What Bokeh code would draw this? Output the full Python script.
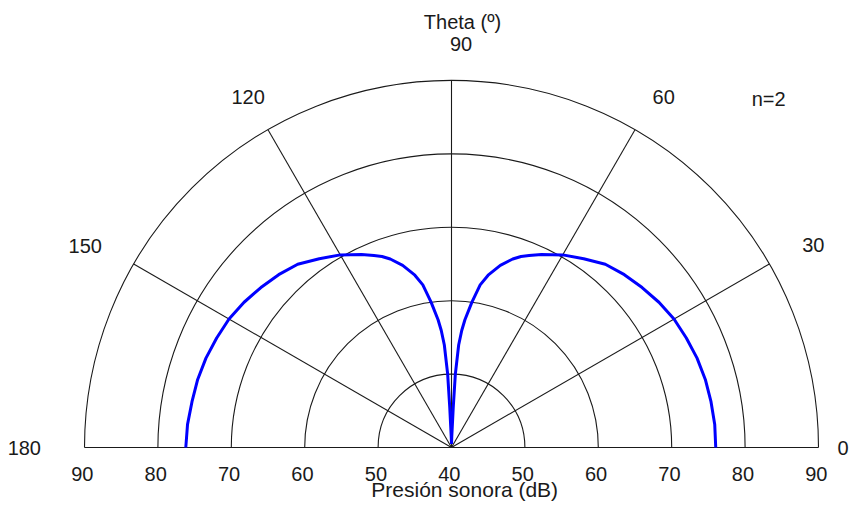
import numpy as np
from bokeh.plotting import figure
from bokeh.models import Range1d
from bokeh.core.properties import value
from bokeh.embed import file_html
from bokeh.resources import INLINE

# ---- data ----
theta_deg = [0, 5, 10, 15, 20, 25, 30, 35, 40, 45, 50, 55, 60, 65, 68, 70, 72, 75, 78, 80, 82, 84,
             85, 86, 87, 87.5, 88.5, 90,
             91.5, 92.5, 93, 94, 95, 96, 98, 100, 102, 105, 108, 110, 112, 115, 120, 125, 130, 135,
             140, 145, 150, 155, 160, 165, 170, 175, 180]
spl_db = [76.0, 76.0, 75.9, 75.8, 75.6, 75.3, 75.0, 74.5, 73.9, 73.3, 72.6, 71.4, 70.3, 69.0, 68.2,
          67.7, 67.0, 65.7, 64.0, 62.5, 60.0, 57.5, 56.0, 54.0, 50.0, 45.5, 41.5, 40.5,
          41.5, 45.5, 50.0, 54.0, 56.0, 57.5, 60.0, 62.5, 64.0, 65.7, 67.0, 67.7, 68.2, 69.0, 70.3,
          71.4, 72.6, 73.3, 73.9, 74.5, 75.0, 75.3, 75.6, 75.8, 75.9, 76.1, 76.2]
ring_db = [50, 60, 70, 80, 90]
r_min = 40
spoke_deg = [30, 60, 90, 120, 150]
angle_labels = ["0", "30", "60", "90", "120", "150", "180"]
angle_label_deg = [0, 30, 60, 90, 120, 150, 180]
tick_labels = ["90", "80", "70", "60", "50", "40", "50", "60", "70", "80", "90"]
tick_db = [90, 80, 70, 60, 50, 40, 50, 60, 70, 80, 90]
tick_side = [-1, -1, -1, -1, -1, 0, 1, 1, 1, 1, 1]
title_text = "Theta (º)"
xlabel_text = "Presión sonora (dB)"
note_text = "n=2"

W, H = 849, 508
scale = 367 / 50.0          # px per dB
cx, cy = 451, 447           # centre in figure px
p = figure(width=W, height=H, output_backend="svg", toolbar_location=None,
           x_range=Range1d(-cx / scale, (W - cx) / scale),
           y_range=Range1d(-(H - cy) / scale, cy / scale),
           min_border=0, min_border_left=0, min_border_right=0,
           min_border_top=0, min_border_bottom=0)
p.axis.visible = False
p.grid.visible = False
p.outline_line_color = None
p.background_fill_color = "white"
p.border_fill_color = "white"

grid_col = "#1a1a1a"
rmax = ring_db[-1] - r_min

# rings
p.arc(x=0, y=0, radius=[r - r_min for r in ring_db], start_angle=0, end_angle=np.pi,
      line_color=grid_col, line_width=1.1, radius_units="data")
# spokes
sa = np.deg2rad(spoke_deg)
p.segment(x0=0, y0=0, x1=rmax * np.cos(sa), y1=rmax * np.sin(sa), line_color=grid_col, line_width=1.1)
p.segment(x0=[-rmax], y0=[0], x1=[rmax], y1=[0], line_color=grid_col, line_width=1.2)

# curve
th = np.deg2rad(theta_deg)
rr = np.clip(np.array(spl_db) - r_min, 0, None)
p.line(rr * np.cos(th), rr * np.sin(th), line_color="#0000ff", line_width=3)

font = value("Liberation Sans")
fs = "20px"
tc = "#1a1a1a"

# angle labels (0 is kept inside the right edge)
la = np.deg2rad(angle_label_deg[1:])
lr = 56.0
dx = np.array([0.8, 0.9, 1.3, 0.3, -1.4, -2.2])
dy = np.array([-0.4, -0.8, -1.0, -0.8, -0.5, 0.0])
p.text(x=lr * np.cos(la) + dx, y=lr * np.sin(la) + dy,
       text=angle_labels[1:], text_align="center", text_baseline="middle",
       text_font=font, text_font_size=fs, text_color=tc)
p.text(x=[(W - cx - 1) / scale], y=[0], text=angle_labels[:1], text_align="right",
       text_baseline="middle", text_font=font, text_font_size=fs, text_color=tc)

# radial tick labels
tx = [s * (v - r_min) - 0.3 for s, v in zip(tick_side, tick_db)]
p.text(x=tx, y=[-3.55] * len(tick_labels), text=tick_labels, text_align="center",
       text_baseline="middle", text_font=font, text_font_size=fs, text_color=tc)

p.text(x=[1.5], y=[58.0], text=[title_text], text_align="center", text_baseline="middle",
       text_font=font, text_font_size=fs, text_color=tc)
p.text(x=[1.8], y=[-5.75], text=[xlabel_text], text_align="center", text_baseline="middle",
       text_font=font, text_font_size="21px", text_color=tc)
p.text(x=[43.2], y=[47.5], text=[note_text], text_align="center", text_baseline="middle",
       text_font=font, text_font_size=fs, text_color=tc)

open("out.html", "w").write(file_html(p, INLINE))
